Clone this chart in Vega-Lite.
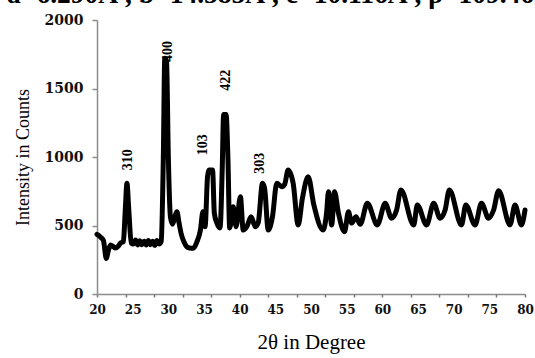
{
  "$schema": "https://vega.github.io/schema/vega-lite/v6.json",
  "width": 428,
  "height": 274,
  "autosize": {"type": "none"},
  "padding": {"left": 97, "top": 20, "right": 10, "bottom": 64},
  "background": "white",
  "title": {
    "text": "a=6.290Å , b=14.585Å , c=10.116Å , β=109.46",
    "anchor": "start",
    "frame": "group",
    "dx": -90,
    "dy": 21,
    "font": "Liberation Serif",
    "fontSize": 27.5,
    "fontWeight": "bold",
    "color": "#000000",
    "baseline": "alphabetic",
    "offset": 4
  },
  "config": {"view": {"stroke": null}},
  "resolve": {"axis": {"x": "independent"}},
  "layer": [
    {
      "data": {
        "values": [
          {"two_theta": 20.0, "counts": 435},
          {"two_theta": 20.5, "counts": 415},
          {"two_theta": 20.9, "counts": 390},
          {"two_theta": 21.3, "counts": 260},
          {"two_theta": 21.6, "counts": 320},
          {"two_theta": 21.9, "counts": 358},
          {"two_theta": 22.3, "counts": 345},
          {"two_theta": 22.6, "counts": 336},
          {"two_theta": 23.0, "counts": 350},
          {"two_theta": 23.3, "counts": 372},
          {"two_theta": 23.7, "counts": 382},
          {"two_theta": 23.95, "counts": 600},
          {"two_theta": 24.2, "counts": 808},
          {"two_theta": 24.45, "counts": 620},
          {"two_theta": 24.8, "counts": 372},
          {"two_theta": 25.1, "counts": 365},
          {"two_theta": 25.4, "counts": 395},
          {"two_theta": 25.7, "counts": 358},
          {"two_theta": 26.0, "counts": 388},
          {"two_theta": 26.3, "counts": 360},
          {"two_theta": 26.6, "counts": 385},
          {"two_theta": 26.9, "counts": 358},
          {"two_theta": 27.2, "counts": 390},
          {"two_theta": 27.5, "counts": 360},
          {"two_theta": 27.8, "counts": 385},
          {"two_theta": 28.1, "counts": 355},
          {"two_theta": 28.4, "counts": 390},
          {"two_theta": 28.7, "counts": 365},
          {"two_theta": 29.0, "counts": 385},
          {"two_theta": 29.3, "counts": 1000},
          {"two_theta": 29.5, "counts": 1720},
          {"two_theta": 29.75, "counts": 1700},
          {"two_theta": 30.0, "counts": 1000},
          {"two_theta": 30.3, "counts": 560},
          {"two_theta": 30.6, "counts": 510},
          {"two_theta": 30.9, "counts": 560},
          {"two_theta": 31.2, "counts": 600},
          {"two_theta": 31.5, "counts": 520},
          {"two_theta": 31.8, "counts": 440},
          {"two_theta": 32.2, "counts": 380},
          {"two_theta": 32.6, "counts": 345},
          {"two_theta": 33.0, "counts": 336},
          {"two_theta": 33.5, "counts": 334},
          {"two_theta": 34.0, "counts": 380},
          {"two_theta": 34.5, "counts": 467},
          {"two_theta": 34.85, "counts": 600},
          {"two_theta": 35.15, "counts": 490},
          {"two_theta": 35.5, "counts": 860},
          {"two_theta": 35.7, "counts": 905},
          {"two_theta": 36.2, "counts": 905},
          {"two_theta": 36.45, "counts": 590},
          {"two_theta": 36.8, "counts": 518},
          {"two_theta": 37.25, "counts": 482},
          {"two_theta": 37.55, "counts": 900},
          {"two_theta": 37.75, "counts": 1310},
          {"two_theta": 38.1, "counts": 1310},
          {"two_theta": 38.35, "counts": 1000},
          {"two_theta": 38.6, "counts": 482},
          {"two_theta": 39.1, "counts": 637},
          {"two_theta": 39.5, "counts": 491},
          {"two_theta": 40.1, "counts": 710},
          {"two_theta": 40.5, "counts": 467},
          {"two_theta": 41.0, "counts": 491},
          {"two_theta": 41.6, "counts": 564},
          {"two_theta": 42.2, "counts": 491},
          {"two_theta": 42.6, "counts": 520},
          {"two_theta": 43.2, "counts": 808},
          {"two_theta": 43.5, "counts": 770},
          {"two_theta": 44.0, "counts": 467},
          {"two_theta": 44.6, "counts": 564},
          {"two_theta": 45.2, "counts": 808},
          {"two_theta": 45.9, "counts": 783},
          {"two_theta": 46.3, "counts": 800},
          {"two_theta": 46.8, "counts": 905},
          {"two_theta": 47.5, "counts": 808},
          {"two_theta": 48.2, "counts": 504},
          {"two_theta": 48.8, "counts": 700},
          {"two_theta": 49.6, "counts": 856},
          {"two_theta": 50.4, "counts": 650},
          {"two_theta": 51.7, "counts": 467},
          {"two_theta": 52.2, "counts": 600},
          {"two_theta": 52.45, "counts": 747},
          {"two_theta": 52.9, "counts": 504},
          {"two_theta": 53.3, "counts": 747},
          {"two_theta": 53.85, "counts": 590},
          {"two_theta": 54.7, "counts": 455},
          {"two_theta": 55.25, "counts": 600},
          {"two_theta": 55.7, "counts": 518},
          {"two_theta": 56.3, "counts": 564},
          {"two_theta": 56.9, "counts": 509},
          {"two_theta": 57.9, "counts": 662},
          {"two_theta": 59.3, "counts": 504},
          {"two_theta": 60.4, "counts": 662},
          {"two_theta": 61.3, "counts": 553},
          {"two_theta": 62.0, "counts": 613},
          {"two_theta": 62.6, "counts": 760},
          {"two_theta": 64.4, "counts": 504},
          {"two_theta": 64.9, "counts": 650},
          {"two_theta": 66.2, "counts": 504},
          {"two_theta": 67.2, "counts": 662},
          {"two_theta": 68.1, "counts": 553},
          {"two_theta": 68.8, "counts": 613},
          {"two_theta": 69.4, "counts": 760},
          {"two_theta": 71.1, "counts": 504},
          {"two_theta": 71.7, "counts": 650},
          {"two_theta": 73.0, "counts": 504},
          {"two_theta": 73.9, "counts": 662},
          {"two_theta": 74.9, "counts": 553},
          {"two_theta": 75.6, "counts": 613},
          {"two_theta": 76.3, "counts": 754},
          {"two_theta": 77.9, "counts": 504},
          {"two_theta": 78.6, "counts": 650},
          {"two_theta": 79.5, "counts": 504},
          {"two_theta": 80.0, "counts": 613}
        ]
      },
      "mark": {"type": "line", "color": "#000000", "strokeWidth": 5, "interpolate": "monotone", "strokeJoin": "round", "strokeCap": "round"},
      "encoding": {
        "x": {
          "field": "two_theta",
          "type": "quantitative",
          "scale": {"domain": [20, 80], "nice": false, "zero": false},
          "axis": {
            "orient": "bottom",
            "title": "2θ in Degree",
            "values": [20, 25, 30, 35, 40, 45, 50, 55, 60, 65, 70, 75, 80],
            "ticks": false,
            "grid": false,
            "labelFlush": false,
            "labelOverlap": false,
            "domainColor": "#8c8c8c",
            "domainWidth": 1.5,
            "labelFont": "DejaVu Serif",
            "labelFontWeight": "bold",
            "labelFontSize": 12,
            "labelColor": "#111111",
            "labelPadding": 10,
            "titleFont": "Liberation Serif",
            "titleFontSize": 21,
            "titleFontWeight": "normal",
            "titleColor": "#000000",
            "titlePadding": 16
          }
        },
        "y": {
          "field": "counts",
          "type": "quantitative",
          "scale": {"domain": [0, 2000], "nice": false},
          "axis": {
            "title": "Intensity in Counts",
            "values": [0, 250, 500, 750, 1000, 1250, 1500, 1750, 2000],
            "format": "d",
            "grid": false,
            "labelFlush": false,
            "domainColor": "#8c8c8c",
            "domainWidth": 1.5,
            "tickColor": "#8c8c8c",
            "tickSize": 5,
            "tickWidth": 1.5,
            "labelFont": "DejaVu Serif",
            "labelFontWeight": "bold",
            "labelFontSize": 14,
            "labelColor": "#111111",
            "labelPadding": 9,
            "titleFont": "Liberation Serif",
            "titleFontSize": 18,
            "titleFontWeight": "normal",
            "titleColor": "#000000",
            "titlePadding": 12
          }
        }
      }
    },
    {
      "data": {
        "values": [
          {"two_theta": 24.4, "counts": 980, "label": "310"},
          {"two_theta": 30.0, "counts": 1770, "label": "400"},
          {"two_theta": 34.9, "counts": 1090, "label": "103"},
          {"two_theta": 38.1, "counts": 1560, "label": "422"},
          {"two_theta": 42.9, "counts": 955, "label": "303"}
        ]
      },
      "mark": {"type": "text", "angle": 270, "font": "Liberation Serif", "fontWeight": "bold", "fontSize": 14, "align": "center", "baseline": "middle", "color": "#000000"},
      "encoding": {
        "x": {
          "field": "two_theta",
          "type": "quantitative",
          "axis": {
            "orient": "bottom",
            "title": null,
            "values": [20, 24, 28, 32, 36, 40, 44, 48, 52, 56, 60, 64, 68, 72, 76, 80],
            "labels": false,
            "domain": false,
            "grid": false,
            "tickColor": "#777777",
            "tickSize": 3,
            "tickWidth": 1.5
          }
        },
        "y": {"field": "counts", "type": "quantitative"},
        "text": {"field": "label"}
      }
    }
  ]
}
